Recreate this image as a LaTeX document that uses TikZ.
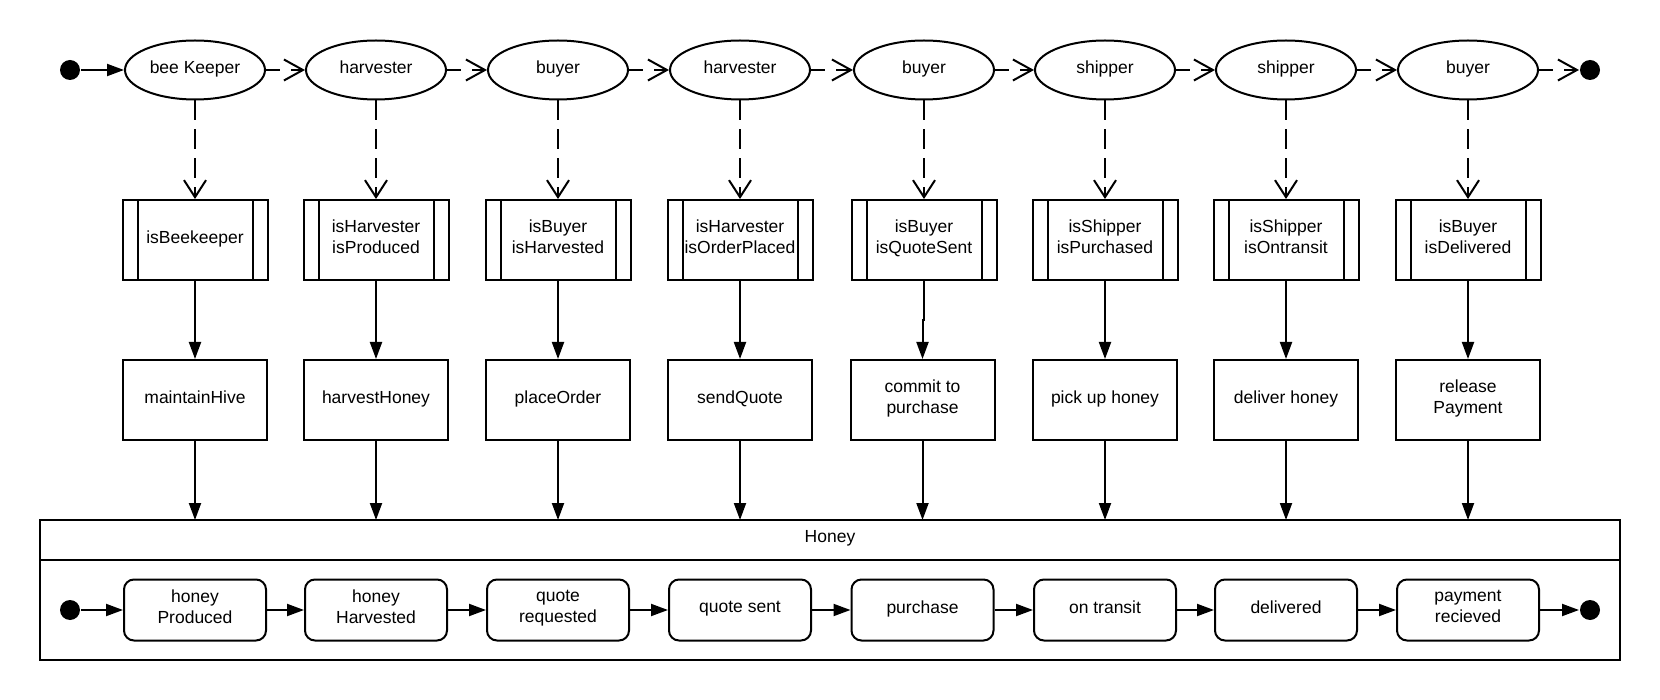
\documentclass[tikz,border=0pt]{standalone}
\usepackage{fontspec}
\setmainfont{Liberation Sans}
\usetikzlibrary{arrows.meta,shapes.geometric}
\begin{document}
\begin{tikzpicture}[x=1pt,y=-1pt,line width=2pt,
  every node/.style={font=\fontsize{17.5}{21}\selectfont,align=center,inner sep=0pt,text depth=6.5pt},
  actor/.style={draw,ellipse,minimum width=140pt,minimum height=59pt},
  guard/.style={draw,minimum width=145pt,minimum height=80pt,
    path picture={\draw[line width=2pt]
      ([xshift=15pt]path picture bounding box.north west) -- ([xshift=15pt]path picture bounding box.south west)
      ([xshift=-15pt]path picture bounding box.north east) -- ([xshift=-15pt]path picture bounding box.south east);}},
  action/.style={draw,minimum width=144pt,minimum height=80pt},
  stat/.style={draw,rounded corners=10pt,minimum width=142pt,minimum height=61pt},
  dot/.style={circle,fill,minimum size=20pt,text depth=0pt},
  flow/.style={-{Triangle[length=17pt,width=12pt]}},
  dep/.style={dash pattern=on 20pt off 9pt,-{Straight Barb[length=17pt,width=22pt]}},
  next/.style={dash pattern=on 14pt off 11pt,-{Straight Barb[length=19pt,width=21pt]}}
]
\useasboundingbox (0,0) rectangle (1660,700);

% frame
\node[draw,outer sep=0pt,minimum width=1580pt,minimum height=40pt] (hdr) at (830,540) {Honey};
\node[draw,outer sep=0pt,minimum width=1580pt,minimum height=100pt,anchor=north] (body) at (hdr.south) {};

\foreach \i/\x/\gx/\who/\cond/\act/\st in {
  1/195/195/{bee Keeper}/{isBeekeeper}/{maintainHive}/{honey\\Produced},
  2/376/376/{harvester}/{isHarvester\\isProduced}/{harvestHoney}/{honey\\Harvested},
  3/558/558/{buyer}/{isBuyer\\isHarvested}/{placeOrder}/{quote\\requested},
  4/740/740/{harvester}/{isHarvester\\isOrderPlaced}/{sendQuote}/{quote sent},
  5/922.5/924/{buyer}/{isBuyer\\isQuoteSent}/{commit to\\purchase}/{purchase},
  6/1105/1105/{shipper}/{isShipper\\isPurchased}/{pick up honey}/{on transit},
  7/1286/1286/{shipper}/{isShipper\\isOntransit}/{deliver honey}/{delivered},
  8/1468/1468/{buyer}/{isBuyer\\isDelivered}/{release\\Payment}/{payment\\recieved}}{
  \node[actor] (e\i) at (\gx,70) {\who};
  \node[guard] (g\i) at (\gx,240) {\cond};
  \node[action] (a\i) at (\x,400) {\act};
  \node[stat] (s\i) at (\x,610) {\st};
  \draw[dep] (e\i.south) -- (g\i.north);
  \draw[flow] (g\i.south) -- ++(0,39) -| (a\i.north);
  \draw[flow] (a\i.south) -- (a\i.south |- hdr.north);
}

% start / end dots
\node[dot] (start) at (70,70) {};
\node[dot] (finish) at (1590,70) {};
\node[dot] (sstart) at (70,610) {};
\node[dot] (sfinish) at (1590,610) {};

\draw[flow] (start) -- (e1.west);
\draw[next] (e8.east) -- (finish);
\draw[flow] (sstart) -- (s1.west);
\draw[flow] (s8.east) -- (sfinish);

\foreach \i [evaluate=\i as \j using int(\i+1)] in {1,...,7}{
  \draw[next] (e\i.east) -- (e\j.west);
  \draw[flow] (s\i.east) -- (s\j.west);
}
\end{tikzpicture}
\end{document}
